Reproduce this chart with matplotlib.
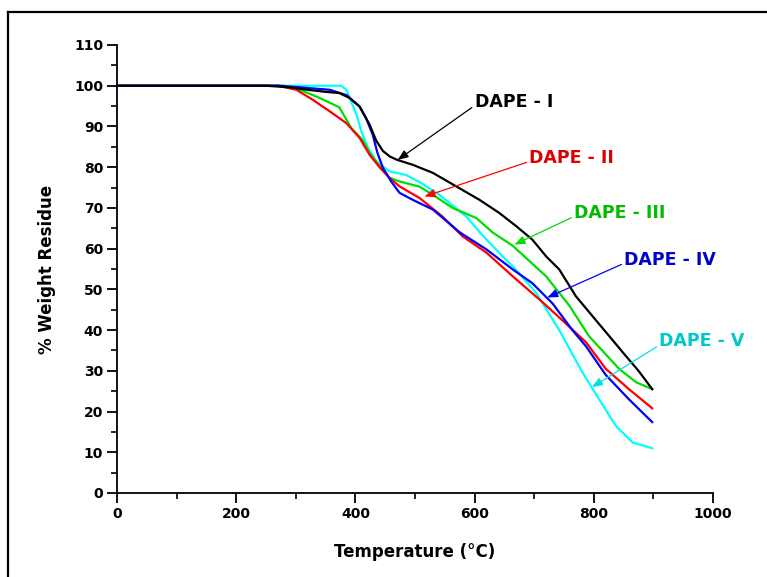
import matplotlib
matplotlib.use("Agg")
import matplotlib.pyplot as plt
from matplotlib.lines import Line2D
from matplotlib.ticker import MultipleLocator

plt.rcParams['font.family'] = ['DejaVu Sans']

# DAPE - I (black)
t1 = [0, 250, 290, 320, 350, 373, 390, 407, 424, 435, 446, 458, 470, 496, 530, 569, 608, 641, 670, 697, 720, 742, 770, 798, 826, 850, 875, 898]
w1 = [100, 100, 99.6, 99, 98.5, 98.2, 97, 94.9, 90.4, 86.5, 84, 82.6, 81.8, 80.6, 78.6, 75.3, 72, 68.8, 65.5, 62.2, 58.1, 54.9, 48.3, 43.4, 38.5, 34.3, 30, 25.5]
# DAPE - II (red)
t2 = [0, 270, 301, 329, 357, 385, 407, 424, 441, 457, 474, 508, 546, 580, 620, 664, 709, 754, 787, 820, 859, 898]
w2 = [100, 100, 99, 96.5, 93.7, 90.8, 87.2, 83, 79.9, 77.4, 75.3, 72.4, 67.9, 63, 59, 53.2, 47.5, 41.5, 37, 30.5, 25.5, 20.8]
# DAPE - III (green)
t3 = [0, 280, 307, 340, 373, 393, 412, 424, 441, 457, 474, 508, 530, 563, 603, 630, 664, 720, 759, 792, 843, 871, 898]
w3 = [100, 100, 99, 97, 94.7, 89.6, 86.7, 83.5, 80.2, 77.4, 76.5, 75.2, 73.2, 70, 67.5, 64, 60.7, 53.2, 46, 38.5, 30.4, 27.2, 25.5]
# DAPE - IV (blue)
t4 = [0, 270, 307, 357, 385, 407, 418, 429, 437, 446, 460, 474, 496, 530, 575, 620, 664, 697, 731, 764, 787, 820, 859, 898]
w4 = [100, 100, 99.6, 99, 97.7, 94.9, 92, 88, 83.5, 79.9, 76.5, 73.7, 72, 69.6, 64, 59.8, 54.9, 51.5, 46.5, 40, 36, 29, 23, 17.4]
# DAPE - V (cyan)
t5 = [0, 376, 385, 393, 402, 410, 421, 435, 457, 485, 508, 541, 586, 620, 647, 664, 703, 742, 781, 809, 837, 865, 898]
w5 = [100, 100, 99, 96.1, 92.8, 88.8, 84.8, 81.4, 79, 78.1, 76.3, 73.2, 67.9, 62.2, 58.1, 55.7, 49.2, 40, 29.6, 23, 16.5, 12.4, 11]

labels = ["DAPE - I", "DAPE - II", "DAPE - III", "DAPE - IV", "DAPE - V"]
colors = ["#000000", "#ff0000", "#00dd00", "#0000ff", "#00ffff"]
text_colors = ["#000000", "#dd0000", "#00bb00", "#0000cc", "#00c8c8"]
label_xy = [(600, 96), (692, 82.3), (767, 68.8), (851, 57.3), (910, 37.2)]
arrow_tip = [(471, 81.8), (516, 72.8), (667, 61), (722, 48), (797, 26)]

fig = plt.figure(figsize=(7.67, 5.77), dpi=100)
ax = fig.add_axes([117/767, 1 - 493/577, (713-117)/767, (493-45)/577])

series = [(t1, w1), (t2, w2), (t3, w3), (t4, w4), (t5, w5)]
order = [4, 2, 1, 3, 0]
for i in order:
    t, w = series[i]
    ax.plot(t, w, color=colors[i], lw=1.6, zorder=3)

for i in range(5):
    ax.annotate(labels[i], xy=arrow_tip[i], xytext=label_xy[i],
                color=text_colors[i], fontsize=12.5, fontweight='bold',
                ha='left', va='center',
                arrowprops=dict(arrowstyle='-|>,head_length=0.5,head_width=0.2',
                                color=colors[i] if i != 4 else "#00e0e0", lw=0.9,
                                shrinkA=0, shrinkB=0,
                                relpos=(0, 0.3)),
                zorder=5, annotation_clip=False)

ax.set_xlim(0, 1000)
ax.set_ylim(0, 110)
ax.spines['top'].set_visible(False)
ax.spines['right'].set_visible(False)
for s in ['left', 'bottom']:
    ax.spines[s].set_linewidth(1.3)
ax.xaxis.set_major_locator(MultipleLocator(200))
ax.xaxis.set_minor_locator(MultipleLocator(100))
ax.yaxis.set_major_locator(MultipleLocator(10))
ax.yaxis.set_minor_locator(MultipleLocator(5))
ax.tick_params(which='major', direction='out', length=7, width=1.3, labelsize=10, pad=3)
ax.tick_params(which='minor', direction='out', length=4, width=1.2)
for lab in ax.get_xticklabels() + ax.get_yticklabels():
    lab.set_fontweight('bold')
ax.set_xlabel("Temperature (°C)", fontsize=12, fontweight='bold', labelpad=16)
ax.set_ylabel("% Weight Residue", fontsize=12, fontweight='bold', labelpad=13)

# figure frame (top and left edges)
fx = 8/767
fy = 1 - 12/577
fig.add_artist(Line2D([fx, fx], [0, fy], transform=fig.transFigure, color='black', lw=1.6))
fig.add_artist(Line2D([fx, 1], [fy, fy], transform=fig.transFigure, color='black', lw=1.6))

fig.savefig("out.png", dpi=100)
